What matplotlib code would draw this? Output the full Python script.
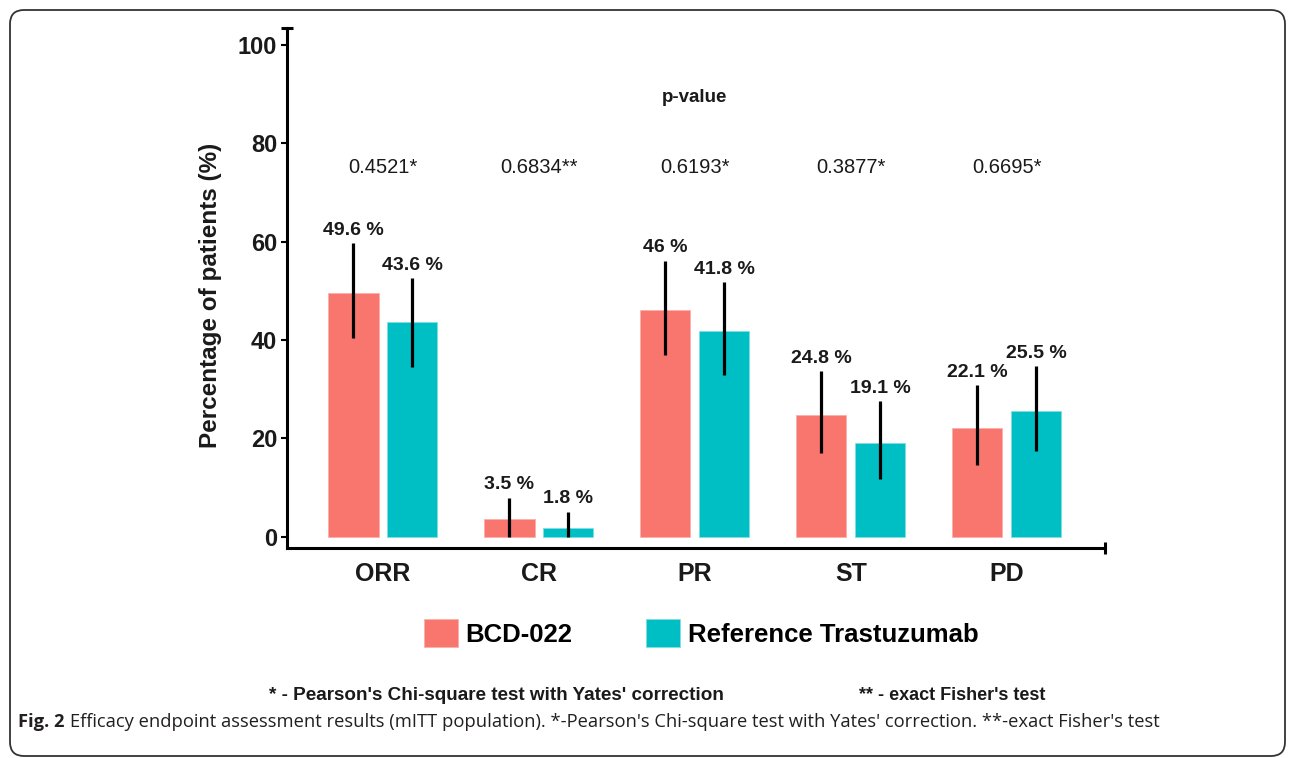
import numpy as np
import matplotlib.pyplot as plt
from matplotlib.patches import FancyBboxPatch

# data
categories = ["ORR", "CR", "PR", "ST", "PD"]
groups = ["BCD-022", "Reference Trastuzumab"]
bcd = [49.6, 3.5, 46.0, 24.8, 22.1]
ref = [43.6, 1.8, 41.8, 19.1, 25.5]
bcd_low = [40.5, 0.0, 36.9, 17.0, 14.6]
bcd_high = [59.7, 7.9, 56.1, 33.7, 30.8]
ref_low = [34.6, 0.0, 32.8, 11.7, 17.5]
ref_high = [52.6, 5.1, 51.8, 27.5, 34.7]
bcd_labels = ["49.6 %", "3.5 %", "46 %", "24.8 %", "22.1 %"]
ref_labels = ["43.6 %", "1.8 %", "41.8 %", "19.1 %", "25.5 %"]
p_values = ["0.4521*", "0.6834**", "0.6193*", "0.3877*", "0.6695*"]
y_ticks = [0, 20, 40, 60, 80, 100]

red = "#F8766D"
teal = "#00BFC4"
ink = "#1a1a1a"

plt.rcParams["font.family"] = ["Liberation Sans", "DejaVu Sans"]

W, H = 1295, 758
fig = plt.figure(figsize=(W / 100, H / 100), dpi=100)
ax = fig.add_axes([287 / W, 1 - 548 / H, 818 / W, 520 / H])

x = np.arange(len(categories))
off = 0.189
bw = 0.322

b1 = ax.bar(x - off, bcd, bw, color=red, edgecolor="#fbb0aa", linewidth=0.6, label=groups[0])
b2 = ax.bar(x + off, ref, bw, color=teal, edgecolor="#7fdfe1", linewidth=0.6, label=groups[1])

# confidence intervals, plain black lines without caps
ax.vlines(x - off, bcd_low, bcd_high, color="black", linewidth=2.3)
ax.vlines(x + off, ref_low, ref_high, color="black", linewidth=2.3)

for i in range(len(categories)):
    ax.text(x[i] - off, bcd_high[i] + 1.7, bcd_labels[i], ha="center", va="baseline",
            fontsize=14, fontweight="bold", color=ink)
    ax.text(x[i] + off, ref_high[i] + 1.7, ref_labels[i], ha="center", va="baseline",
            fontsize=14, fontweight="bold", color=ink)
    ax.text(x[i], 75, p_values[i], ha="center", va="center", fontsize=14.5, color=ink)

ax.text(x[2], 89.3, "p-value", ha="center", va="center", fontsize=13.5, fontweight="bold", color=ink)

ax.set_xlim(-0.615, 4.63)
ax.set_ylim(-2.32, 103.46)
ax.set_yticks(y_ticks)
ax.set_yticklabels([str(t) for t in y_ticks], fontsize=17, fontweight="bold", color=ink)
ax.set_xticks(x)
ax.set_xticklabels(categories, fontsize=18, fontweight="bold", color=ink)
ax.tick_params(axis="x", length=0, pad=10)
ax.tick_params(axis="y", length=4, width=1.5, pad=3)

for s in ["top", "right"]:
    ax.spines[s].set_visible(False)
for s in ["left", "bottom"]:
    ax.spines[s].set_linewidth(2.2)
    ax.spines[s].set_color("black")

# end caps on the axis lines
ax.plot([-0.615], [103.46], marker="_", markersize=9, markeredgewidth=2.2, color="black", clip_on=False)
ax.plot([4.63], [-2.32], marker="|", markersize=9, markeredgewidth=2.2, color="black", clip_on=False)

fig.text(210 / W, 1 - 295 / H, "Percentage of patients (%)", rotation=90, ha="center", va="center",
         fontsize=17.5, fontweight="bold", color=ink)

fs_leg = 18.5
em = fs_leg * 100 / 72
fig.legend(handles=[b1, b2], labels=groups, loc="center", bbox_to_anchor=(701 / W, 1 - 633 / H),
           ncol=2, frameon=False, prop={"size": fs_leg, "weight": "bold"},
           handlelength=34 / em, handleheight=33 / em, handletextpad=8 / em, columnspacing=73 / em)

fig.text(496 / W, 1 - 695 / H, "* - Pearson's Chi-square test with Yates' correction", ha="center", va="center",
         fontsize=13.6, fontweight="bold", color=ink)
fig.text(952 / W, 1 - 695 / H, "** - exact Fisher's test", ha="center", va="center",
         fontsize=13, fontweight="bold", color=ink)

# rounded frame round the whole figure
frame = FancyBboxPatch((10 / 100, 2 / 100), 1275 / 100, 746 / 100, boxstyle="round,pad=0,rounding_size=0.14",
                       transform=fig.dpi_scale_trans, facecolor="none", edgecolor="#333333", linewidth=1.3)
fig.patches.append(frame)

# caption
cap_font = ["Open Sans", "DejaVu Sans"]
t1 = fig.text(18 / W, 1 - 722 / H, "Fig. 2", ha="left", va="center", fontsize=13.2,
              fontweight="bold", family=cap_font, color="#231f20")
r = fig.canvas.get_renderer()
bb = t1.get_window_extent(renderer=r)
fig.text((bb.x1 + 5) / W, 1 - 722 / H,
         "Efficacy endpoint assessment results (mITT population). *-Pearson's Chi-square test with Yates' "
         "correction. **-exact Fisher's test",
         ha="left", va="center", fontsize=13.2, family=cap_font, color="#231f20")

fig.savefig("out.png", dpi=100)
